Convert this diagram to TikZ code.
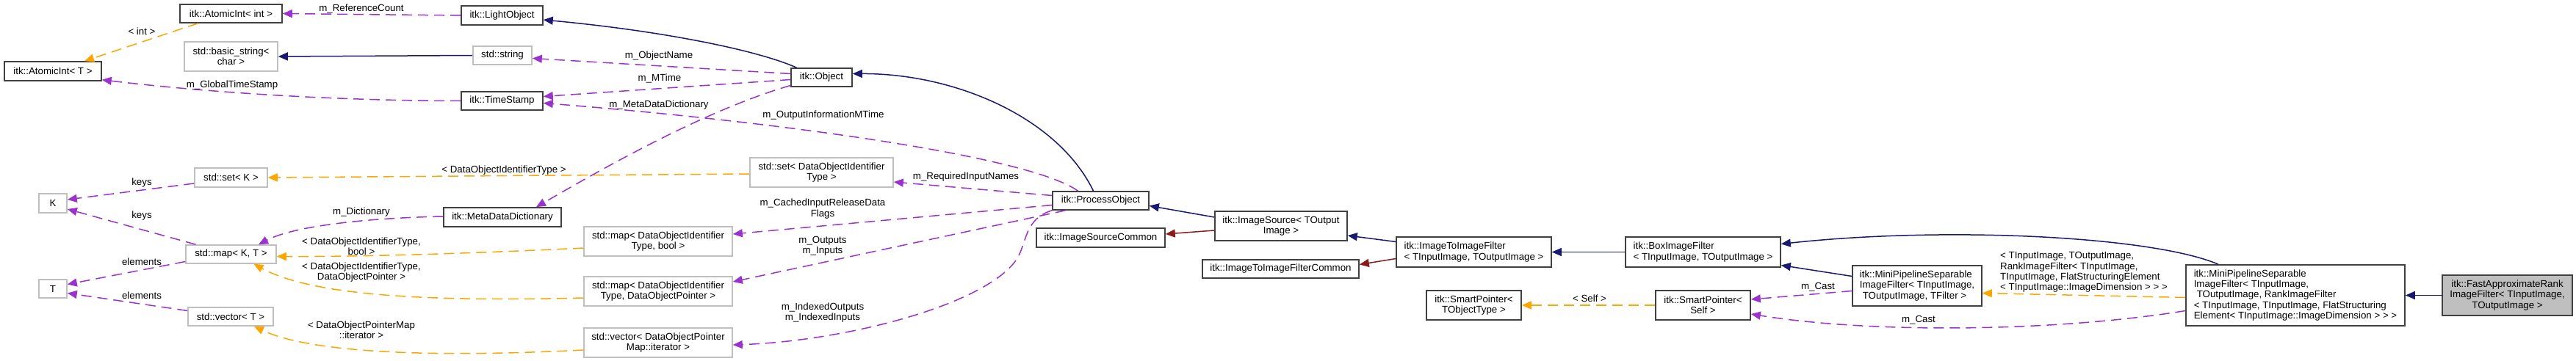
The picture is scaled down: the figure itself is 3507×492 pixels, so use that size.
\documentclass[tikz,border=0pt]{standalone}
\usepackage{fontspec}
\setmainfont{Liberation Sans}
\usepackage{xcolor}
\usepackage{tikz}
\usetikzlibrary{arrows.meta}
\definecolor{dInh}{HTML}{191970}
\definecolor{dProt}{HTML}{8B1A1A}
\definecolor{dUse}{HTML}{9A32CD}
\definecolor{dTpl}{HTML}{FFA500}
\definecolor{dInk}{HTML}{404040}
\definecolor{dGrey}{HTML}{BFBFBF}
\newcommand\dxfont{\fontsize{13.3}{14.4}\selectfont}

\begin{document}
\begin{tikzpicture}[x=1pt, y=-1pt, >={Triangle[length=13pt,width=11pt]},
  dClass/.style={draw=dInk, line width=1.6pt, fill=white, font=\dxfont, inner sep=0pt, align=center},
  dExt/.style={dClass, draw=dGrey},
  dMain/.style={dClass, fill=dGrey},
  eInh/.style={->, dInh, line width=1.5pt},
  eProt/.style={->, dProt, line width=1.5pt},
  eUse/.style={->, dUse, line width=1.5pt, dash pattern=on 14pt off 8pt},
  eTpl/.style={->, dTpl, line width=1.5pt, dash pattern=on 14pt off 8pt},
  eLbl/.style={font=\dxfont, inner sep=0pt, align=center}]
  \useasboundingbox (0,0) rectangle (3507,492);

  % classes, column by column
  \node[dClass, minimum width=132pt, minimum height=26pt] (atomT) at (72,97) {itk::AtomicInt< T >};
  \node[dExt, minimum width=38pt, minimum height=26pt] (K) at (72,277) {K};
  \node[dExt, minimum width=38pt, minimum height=25pt] (T) at (72,393.5) {T};

  \node[dClass, minimum width=139pt, minimum height=25pt] (aint) at (314.5,18.5) {itk::AtomicInt< int >};
  \node[dExt, minimum width=127pt, minimum height=40pt] (bstr) at (314.5,77) {std::basic\_string<\\char >};
  \node[dExt, minimum width=99pt, minimum height=26pt] (setK) at (314.5,242) {std::set< K >};
  \node[dExt, minimum width=123pt, minimum height=25pt] (mapKT) at (314.5,346.5) {std::map< K, T >};
  \node[dExt, minimum width=116pt, minimum height=25pt] (vecT) at (314,431.5) {std::vector< T >};

  \node[dClass, minimum width=111pt, minimum height=26pt] (lobj) at (683.5,21) {itk::LightObject};
  \node[dExt, minimum width=80pt, minimum height=25pt] (str) at (684,75.5) {std::string};
  \node[dClass, minimum width=111pt, minimum height=25pt] (tstamp) at (683.5,137.5) {itk::TimeStamp};
  \node[dClass, minimum width=160pt, minimum height=26pt] (mdd) at (684,296) {itk::MetaDataDictionary};

  \node[dExt, minimum width=202pt, minimum height=40pt] (mapBool) at (896,329) {std::map< DataObjectIdentifier\\Type, bool >};
  \node[dExt, minimum width=202pt, minimum height=40pt] (mapDOP) at (896,397) {std::map< DataObjectIdentifier\\Type, DataObjectPointer >};
  \node[dExt, minimum width=202pt, minimum height=40pt] (vecIter) at (896,467) {std::vector< DataObjectPointer\\Map::iterator >};

  \node[dClass, minimum width=83pt, minimum height=25pt] (obj) at (1118.5,105.5) {itk::Object};
  \node[dExt, minimum width=195pt, minimum height=40pt] (setDOIT) at (1118.5,235) {std::set< DataObjectIdentifier\\Type >};

  \node[dClass, minimum width=131pt, minimum height=25pt] (po) at (1498.5,273.5) {itk::ProcessObject};
  \node[dClass, minimum width=175pt, minimum height=26pt] (isc) at (1498.5,324) {itk::ImageSourceCommon};

  \node[dClass, minimum width=180pt, minimum height=40pt] (isrc) at (1744,308) {itk::ImageSource< TOutput\\Image >};
  \node[dClass, minimum width=213pt, minimum height=25pt] (i2ic) at (1743.5,366.5) {itk::ImageToImageFilterCommon};

  \node[dClass, minimum width=211pt, minimum height=41pt, align=left] (i2i) at (2006.5,343.5) {itk::ImageToImageFilter\\< TInputImage, TOutputImage >};
  \node[dClass, minimum width=129pt, minimum height=40pt] (spTO) at (2006.5,416) {itk::SmartPointer<\\TObjectType >};

  \node[dClass, minimum width=211pt, minimum height=41pt, align=left] (box) at (2318.5,343.5) {itk::BoxImageFilter\\< TInputImage, TOutputImage >};
  \node[dClass, minimum width=129pt, minimum height=40pt] (spSelf) at (2318.5,416) {itk::SmartPointer<\\Self >};

  \node[dClass, minimum width=176pt, minimum height=55pt, align=left] (mp) at (2610,389.5) {itk::MiniPipelineSeparable\\ImageFilter< TInputImage,\\\hspace*{4pt}TOutputImage, TFilter >};
  \node[dClass, minimum width=298pt, minimum height=83pt, align=left] (mpRank) at (3125,402.5) {itk::MiniPipelineSeparable\\ImageFilter< TInputImage,\\\hspace*{4pt}TOutputImage, RankImageFilter\\< TInputImage, TInputImage, FlatStructuring\\Element< TInputImage::ImageDimension > > >};
  \node[dMain, minimum width=177pt, minimum height=55pt] (fast) at (3413.5,402.5) {itk::FastApproximateRank\\ImageFilter< TInputImage,\\TOutputImage >};

  % inheritance
  \draw[eInh] (str.west) -- (bstr.east);
  \draw[eInh] ([xshift=-34pt]obj.north) .. controls (1030,68) and (900,42) .. ([yshift=-6pt]lobj.east);
  \draw[eInh] ([xshift=-10pt]po.north) .. controls (1440,160) and (1300,100) .. ([yshift=5pt]obj.east);
  \draw[eInh] ([yshift=12pt]isrc.west) -- ([yshift=-7pt]po.east);
  \draw[eProt] ([yshift=-6pt]isrc.west) -- ([yshift=5pt]isc.east);
  \draw[eInh] ([yshift=14pt]i2i.west) -- ([yshift=-13pt]isrc.east);
  \draw[eProt] ([yshift=-9pt]i2i.west) -- ([yshift=6pt]i2ic.east);
  \draw[eInh] (box.west) -- (i2i.east);
  \draw[eInh] ([yshift=13pt]mp.west) -- ([yshift=-18pt]box.east);
  \draw[eInh] ([xshift=-105pt]mpRank.north) .. controls (2930,322) and (2650,308) .. ([yshift=11pt]box.east);
  \draw[eInh] (fast.west) -- (mpRank.east);

  % members
  \draw[eUse] (lobj.west) -- (aint.east);
  \draw[eUse] (tstamp.west) .. controls (420,137) and (250,122) .. ([yshift=2pt]atomT.south east);
  \draw[eUse] ([yshift=5pt]obj.west) -- ([yshift=-4pt]str.east);
  \draw[eUse] ([yshift=-3pt]obj.west) -- ([yshift=6pt]tstamp.east);
  \draw[eUse] ([yshift=-11pt]obj.west) .. controls (960,150) and (820,230) .. ([xshift=46pt]mdd.north);
  \draw[eUse] ([xshift=-31pt]po.north) .. controls (1400,212) and (1050,165) .. ([yshift=-3pt]tstamp.east);
  \draw[eUse] ([yshift=7pt]po.west) -- ([yshift=-13pt]setDOIT.east);
  \draw[eUse] ([yshift=-6pt]po.west) -- ([yshift=10pt]mapBool.east);
  \draw[eUse] ([xshift=-48pt]po.south) -- ([yshift=13pt]mapDOP.east);
  \draw[eUse] (po.south west) .. controls (1395,298) and (1398,330) .. (1385,352)
    .. controls (1345,415) and (1150,465) .. ([yshift=-3pt]vecIter.east);
  \draw[eUse] ([yshift=1pt]mdd.west) .. controls (500,297) and (400,308) .. ([xshift=37.5pt]mapKT.north);
  \draw[eUse] ([yshift=-8pt]setK.west) -- ([yshift=5pt]K.east);
  \draw[eUse] ([xshift=-48pt]mapKT.north) -- ([yshift=-8pt]K.east);
  \draw[eUse] ([yshift=-10pt]mapKT.west) -- ([yshift=6pt]T.east);
  \draw[eUse] ([yshift=8pt]vecT.west) -- ([yshift=-6pt]T.east);
  \draw[eUse] ([yshift=-7pt]mp.west) -- ([yshift=8pt]spSelf.east);
  \draw[eUse] ([yshift=-21pt]mpRank.west) .. controls (2800,452) and (2550,455) .. ([yshift=-12pt]spSelf.east);

  % template instances
  \draw[eTpl] ([xshift=-45pt]aint.south) -- ([xshift=43pt]atomT.north);
  \draw[eTpl] ([yshift=-2pt]setDOIT.west) -- (setK.east);
  \draw[eTpl] ([yshift=-9pt]mapBool.west) .. controls (650,345) and (500,350) .. ([yshift=-3pt]mapKT.east);
  \draw[eTpl] ([yshift=-9pt]mapDOP.west) .. controls (560,412) and (420,400) .. ([xshift=31pt]mapKT.south);
  \draw[eTpl] ([yshift=-10pt]vecIter.west) .. controls (580,488) and (420,480) .. ([xshift=32pt]vecT.south);
  \draw[eTpl] ([yshift=-3pt]mpRank.west) -- ([yshift=-10pt]mp.east);
  \draw[eTpl] (spSelf.west) -- (spTO.east);

  % edge labels
  \node[eLbl] (lRef) at (492,12) {m\_ReferenceCount};
  \node[eLbl] (lInt) at (193,43) {< int >};
  \node[eLbl] (lGlob) at (316,116) {m\_GlobalTimeStamp};
  \node[eLbl] (lName) at (897,76) {m\_ObjectName};
  \node[eLbl] (lMTime) at (898,107) {m\_MTime};
  \node[eLbl] (lMeta) at (897,143) {m\_MetaDataDictionary};
  \node[eLbl] (lOutInfo) at (1121,157) {m\_OutputInformationMTime};
  \node[eLbl] (lReq) at (1315,241) {m\_RequiredInputNames};
  \node[eLbl] (lCached) at (1120,284.5) {m\_CachedInputReleaseData\\Flags};
  \node[eLbl] (lOuts) at (1120,335.5) {m\_Outputs\\m\_Inputs};
  \node[eLbl] (lIdx) at (1120,426) {m\_IndexedOutputs\\m\_IndexedInputs};
  \node[eLbl] (lDoit) at (686,232) {< DataObjectIdentifierType >};
  \node[eLbl] (lDict) at (492,289) {m\_Dictionary};
  \node[eLbl] (lBool) at (492,335.5) {< DataObjectIdentifierType,\\bool >};
  \node[eLbl] (lDop) at (492,371) {< DataObjectIdentifierType,\\DataObjectPointer >};
  \node[eLbl] (lIter) at (492,449.5) {< DataObjectPointerMap\\::iterator >};
  \node[eLbl] (lKeysA) at (193,249) {keys};
  \node[eLbl] (lKeysB) at (193,294) {keys};
  \node[eLbl] (lElemA) at (193,357) {elements};
  \node[eLbl] (lElemB) at (193,403) {elements};
  \node[eLbl] (lSelf) at (2164,407) {< Self >};
  \node[eLbl] (lCastA) at (2475,391) {m\_Cast};
  \node[eLbl] (lCastB) at (2612,436) {m\_Cast};
  \node[eLbl, align=left] (lRank) at (2837,371) {< TInputImage, TOutputImage,\\RankImageFilter< TInputImage,\\TInputImage, FlatStructuringElement\\< TInputImage::ImageDimension > > >};
\end{tikzpicture}
\end{document}
